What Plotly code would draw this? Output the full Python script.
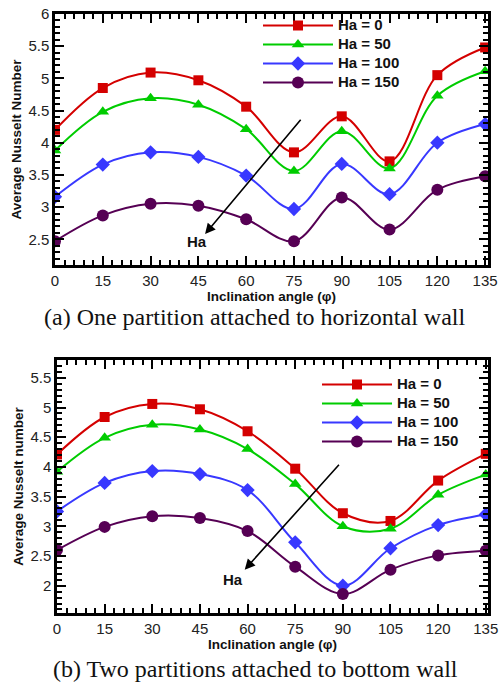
import plotly.graph_objects as go

angles = [0, 15, 30, 45, 60, 75, 90, 105, 120, 135]
series_names = ["Ha = 0", "Ha = 50", "Ha = 100", "Ha = 150"]

# (a) One partition attached to horizontal wall
nu_a_ha0 = [4.20, 4.85, 5.09, 4.97, 4.56, 3.85, 4.41, 3.71, 5.05, 5.48]
nu_a_ha50 = [3.88, 4.48, 4.69, 4.59, 4.21, 3.56, 4.18, 3.60, 4.73, 5.11]
nu_a_ha100 = [3.16, 3.66, 3.85, 3.78, 3.49, 2.97, 3.67, 3.20, 4.00, 4.29]
nu_a_ha150 = [2.47, 2.87, 3.05, 3.02, 2.81, 2.47, 3.15, 2.65, 3.27, 3.48]

# (b) Two partitions attached to bottom wall
nu_b_ha0 = [4.21, 4.84, 5.06, 4.97, 4.60, 3.97, 3.22, 3.09, 3.77, 4.22]
nu_b_ha50 = [3.92, 4.49, 4.71, 4.63, 4.30, 3.71, 3.00, 2.96, 3.53, 3.87]
nu_b_ha100 = [3.25, 3.73, 3.93, 3.88, 3.61, 2.73, 2.00, 2.63, 3.02, 3.20]
nu_b_ha150 = [2.60, 2.99, 3.17, 3.14, 2.92, 2.32, 1.86, 2.27, 2.51, 2.59]

x_ticks = [0, 15, 30, 45, 60, 75, 90, 105, 120, 135]
y_ticks_a = [2.5, 3, 3.5, 4, 4.5, 5, 5.5, 6]
y_ticks_b = [2, 2.5, 3, 3.5, 4, 4.5, 5, 5.5]

colors = ["#d40000", "#00cc00", "#3838ff", "#560054"]
symbols = ["square", "triangle-up", "diamond", "circle"]
msizes = [10, 11, 11, 12]

W, H = 503, 687
fig = go.Figure()

data_a = [nu_a_ha0, nu_a_ha50, nu_a_ha100, nu_a_ha150]
data_b = [nu_b_ha0, nu_b_ha50, nu_b_ha100, nu_b_ha150]

def leg_label(s):
    return '<span style="font-size:15px">%s</span>' % s

for i in range(4):
    fig.add_trace(go.Scatter(
        x=angles, y=data_a[i], name=leg_label(series_names[i]), mode="lines+markers",
        line=dict(color=colors[i], width=2, shape="spline"),
        marker=dict(symbol=symbols[i], size=msizes[i], color=colors[i]),
        xaxis="x", yaxis="y", legend="legend"))
for i in range(4):
    fig.add_trace(go.Scatter(
        x=angles, y=data_b[i], name=leg_label(series_names[i]), mode="lines+markers",
        line=dict(color=colors[i], width=2, shape="spline"),
        marker=dict(symbol=symbols[i], size=msizes[i], color=colors[i]),
        xaxis="x2", yaxis="y2", legend="legend2"))

tickfont = dict(family="Liberation Sans, Arial", size=15, color="#222")
titlefont = dict(family="Liberation Sans, Arial", size=13.5, color="#111")

def xaxis(domain, rng, anchor):
    return dict(domain=domain, range=rng, anchor=anchor, tickvals=x_ticks, automargin=False,
                ticks="inside", ticklen=9, tickwidth=2, tickcolor="black",
                showline=True, linewidth=2.5, linecolor="black", mirror="allticks",
                showgrid=False, zeroline=False, tickfont=tickfont,
                minor=dict(ticks="inside", dtick=3, tick0=0, ticklen=5, tickwidth=1.5,
                           tickcolor="black", showgrid=False),
                title=dict(text="<b>Inclination angle (φ)</b>", font=titlefont, standoff=0))

def yaxis(domain, rng, anchor, tv, title):
    return dict(domain=domain, range=rng, anchor=anchor, tickvals=tv, automargin=False,
                ticktext=[("%g" % v) for v in tv],
                ticks="inside", ticklen=9, tickwidth=2, tickcolor="black",
                showline=True, linewidth=2.5, linecolor="black", mirror="allticks",
                showgrid=False, zeroline=False, tickfont=tickfont,
                minor=dict(ticks="inside", dtick=0.1, tick0=0, ticklen=5, tickwidth=1.5,
                           tickcolor="black", showgrid=False),
                title=dict(text="<b>%s</b>" % title, font=titlefont, standoff=4))

legfont = dict(family="Liberation Sans, Arial", size=12, color="#111", weight="bold")

fig.update_layout(
    width=W, height=H,
    margin=dict(l=0, r=0, t=0, b=0, autoexpand=False),
    paper_bgcolor="white", plot_bgcolor="white",
    xaxis=xaxis([55 / W, 488 / W], [0, 135.9], "y"),
    yaxis=yaxis([1 - 265 / H, 1 - 14 / H], [2.1, 6.0], "x", y_ticks_a, "Average Nusselt Number"),
    xaxis2=xaxis([57 / W, 488 / W], [0, 135.7], "y2"),
    yaxis2=yaxis([1 - 613 / H, 1 - 360 / H], [1.54, 5.8], "x2", y_ticks_b, "Average Nusselt number"),
    legend=dict(x=258 / W, y=1 - 11 / H, xanchor="left", yanchor="top",
                bgcolor="rgba(0,0,0,0)", itemwidth=70, tracegroupgap=0, font=legfont),
    legend2=dict(x=317 / W, y=1 - 370 / H, xanchor="left", yanchor="top",
                 bgcolor="rgba(0,0,0,0)", itemwidth=70, tracegroupgap=0, font=legfont),
    showlegend=True,
)

# arrows
fig.add_annotation(x=47.1, y=2.58, ax=77.5, ay=4.38, xref="x", yref="y", axref="x", ayref="y",
                   text="", showarrow=True, arrowhead=2, arrowsize=1.3, arrowwidth=1.6, arrowcolor="black")
fig.add_annotation(x=44.5, y=2.47, xref="x", yref="y", text="<b>Ha</b>", showarrow=False,
                   font=dict(family="Liberation Sans, Arial", size=15, color="#111"))
fig.add_annotation(x=59.1, y=2.27, ax=89.2, ay=4.06, xref="x2", yref="y2", axref="x2", ayref="y2",
                   text="", showarrow=True, arrowhead=2, arrowsize=1.3, arrowwidth=1.6, arrowcolor="black")
fig.add_annotation(x=55.3, y=2.1, xref="x2", yref="y2", text="<b>Ha</b>", showarrow=False,
                   font=dict(family="Liberation Sans, Arial", size=15, color="#111"))

# captions
fig.add_annotation(x=255 / W, y=1 - 317 / H, xref="paper", yref="paper",
                   xanchor="center", yanchor="middle",
                   text="(a) One partition attached to horizontal wall", showarrow=False,
                   font=dict(family="Liberation Serif, Times New Roman", size=24, color="#111"))
fig.add_annotation(x=255 / W, y=1 - 669 / H, xref="paper", yref="paper",
                   xanchor="center", yanchor="middle",
                   text="(b) Two partitions attached to bottom wall", showarrow=False,
                   font=dict(family="Liberation Serif, Times New Roman", size=24, color="#111"))

fig.write_html("out.html", config={"displayModeBar": False},
               post_script="document.body.style.margin='0px';document.body.style.overflow='hidden';")
